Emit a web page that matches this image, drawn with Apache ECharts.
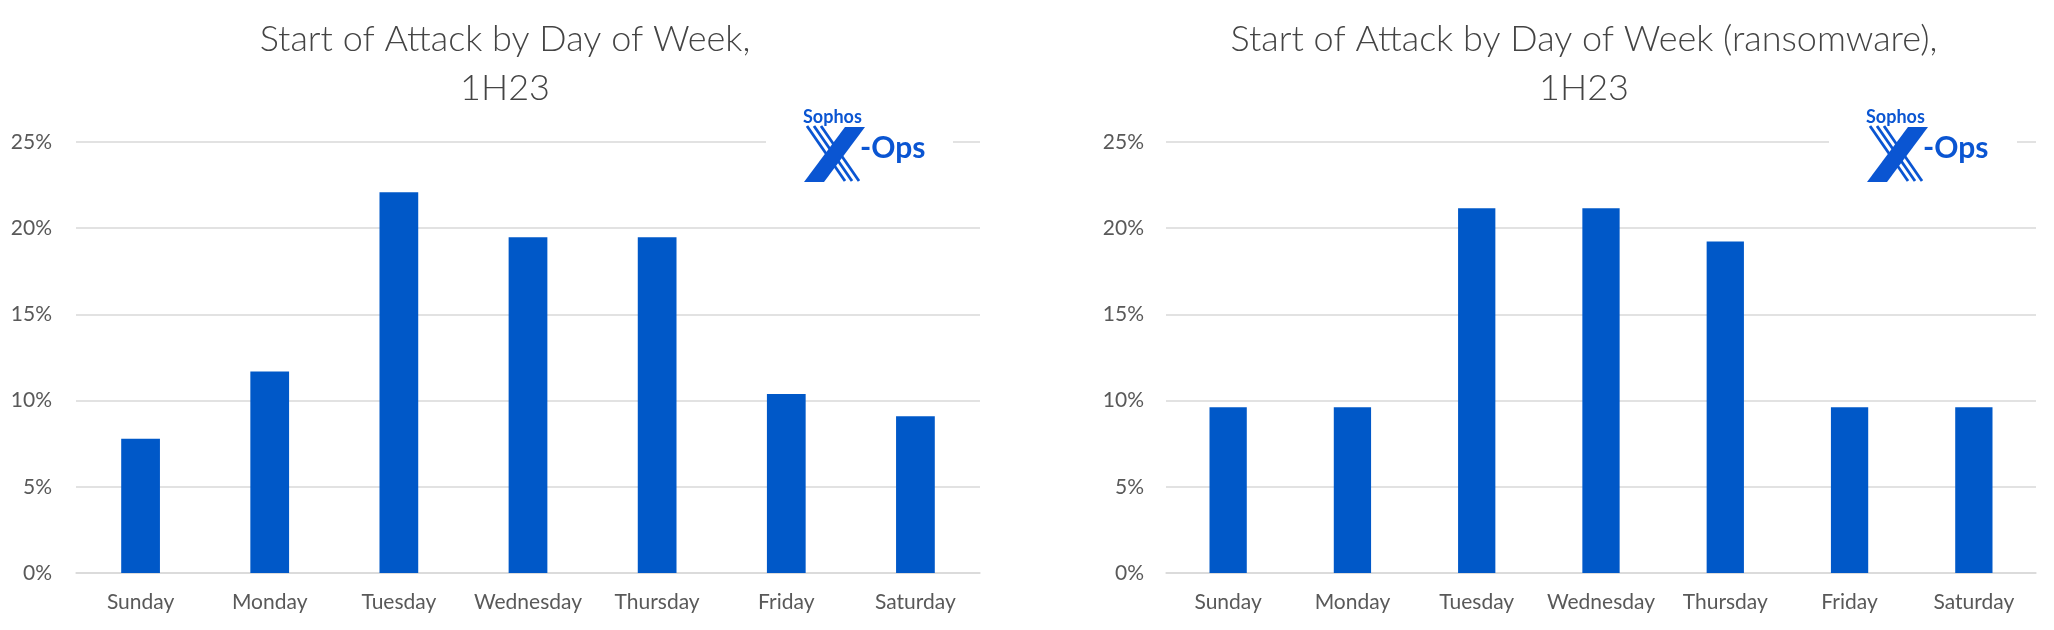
<!DOCTYPE html>
<html>
<head>
<meta charset="utf-8">
<script src="https://cdn.jsdelivr.net/npm/echarts@6/dist/echarts.min.js"></script>
<style>
html,body{margin:0;padding:0;background:#fff;}
#chart{width:2054px;height:630px;}
</style>
</head>
<body>
<div id="chart"></div>
<script>
const categories = ['Sunday', 'Monday', 'Tuesday', 'Wednesday', 'Thursday', 'Friday', 'Saturday'];
const allAttacks = [7.79, 11.69, 22.08, 19.48, 19.48, 10.39, 9.09];
const ransomware = [9.62, 9.62, 21.15, 21.15, 19.23, 9.62, 9.62];
const yTicks = [0, 5, 10, 15, 20, 25];
const titleLeft = 'Start of Attack by Day of Week,\n1H23';
const titleRight = 'Start of Attack by Day of Week (ransomware),\n1H23';
const logoTop = 'Sophos';
const logoBottom = '-Ops';

const FONT = 'Lato, "Liberation Sans", sans-serif';
const TEXT = '#595959';
const TITLE = '#444444';
const BAR = '#0058C8';
const GRID = '#D9D9D9';
const LOGO = '#0A55D2';

const chart = echarts.init(document.getElementById('chart'), null, {renderer: 'canvas'});

function logo(ox, oy, boxL, boxR) {
  const els = [];
  els.push({type: 'rect', z: 100, shape: {x: boxL, y: oy - 10, width: boxR - boxL, height: 86}, style: {fill: '#fff'}});
  for (let i = 0; i < 3; i++) {
    els.push({type: 'line', z: 101, shape: {x1: ox + 4 + i * 7, y1: oy + 18, x2: ox + 42 + i * 7, y2: oy + 73}, style: {stroke: LOGO, lineWidth: 2.8}});
  }
  els.push({type: 'polygon', z: 102, shape: {points: [[ox + 1, oy + 74], [ox + 21, oy + 74], [ox + 62, oy + 19], [ox + 42, oy + 19]]}, style: {fill: LOGO}});
  els.push({type: 'text', z: 103, x: ox, y: oy, style: {text: logoTop, font: 'bold 18px ' + FONT, fill: LOGO, textVerticalAlign: 'top'}});
  els.push({type: 'text', z: 103, x: ox + 57, y: oy + 25, style: {text: logoBottom, font: 'bold 30px ' + FONT, fill: LOGO, textVerticalAlign: 'top'}});
  return els;
}

const yMin = yTicks[0], yMax = yTicks[yTicks.length - 1], yInt = yTicks[1] - yTicks[0];

function xAxis(gi) {
  return {
    type: 'category', gridIndex: gi, data: categories,
    axisLine: {show: true, lineStyle: {color: GRID, width: 1.5}},
    axisTick: {show: false},
    axisLabel: {interval: 0, color: TEXT, fontFamily: FONT, fontSize: 21, margin: 19}
  };
}
function yAxis(gi, margin) {
  return {
    type: 'value', gridIndex: gi, min: yMin, max: yMax, interval: yInt,
    axisLine: {show: false}, axisTick: {show: false},
    splitLine: {lineStyle: {color: GRID, width: 1.5}},
    axisLabel: {color: TEXT, fontFamily: FONT, fontSize: 21, margin: margin, formatter: '{value}%'}
  };
}

const titleStyle = {fontFamily: FONT, fontWeight: 300, fontSize: 36, lineHeight: 49, color: TITLE};

const option = {
  backgroundColor: '#fff',
  animation: false,
  title: [
    {text: titleLeft, left: 500, top: 10, textAlign: 'center', textStyle: titleStyle},
    {text: titleRight, left: 1579, top: 10, textAlign: 'center', textStyle: titleStyle}
  ],
  grid: [
    {left: 76, top: 142, width: 904, height: 431},
    {left: 1166, top: 142, width: 870, height: 431}
  ],
  xAxis: [xAxis(0), xAxis(1)],
  yAxis: [yAxis(0, 24), yAxis(1, 22)],
  series: [
    {type: 'bar', xAxisIndex: 0, yAxisIndex: 0, data: allAttacks, barWidth: '30%', itemStyle: {color: BAR}},
    {type: 'bar', xAxisIndex: 1, yAxisIndex: 1, data: ransomware, barWidth: '30%', itemStyle: {color: BAR}}
  ],
  graphic: logo(803, 108, 766, 953).concat(logo(1866, 108, 1829, 2017))
};
chart.setOption(option);
</script>
</body>
</html>
